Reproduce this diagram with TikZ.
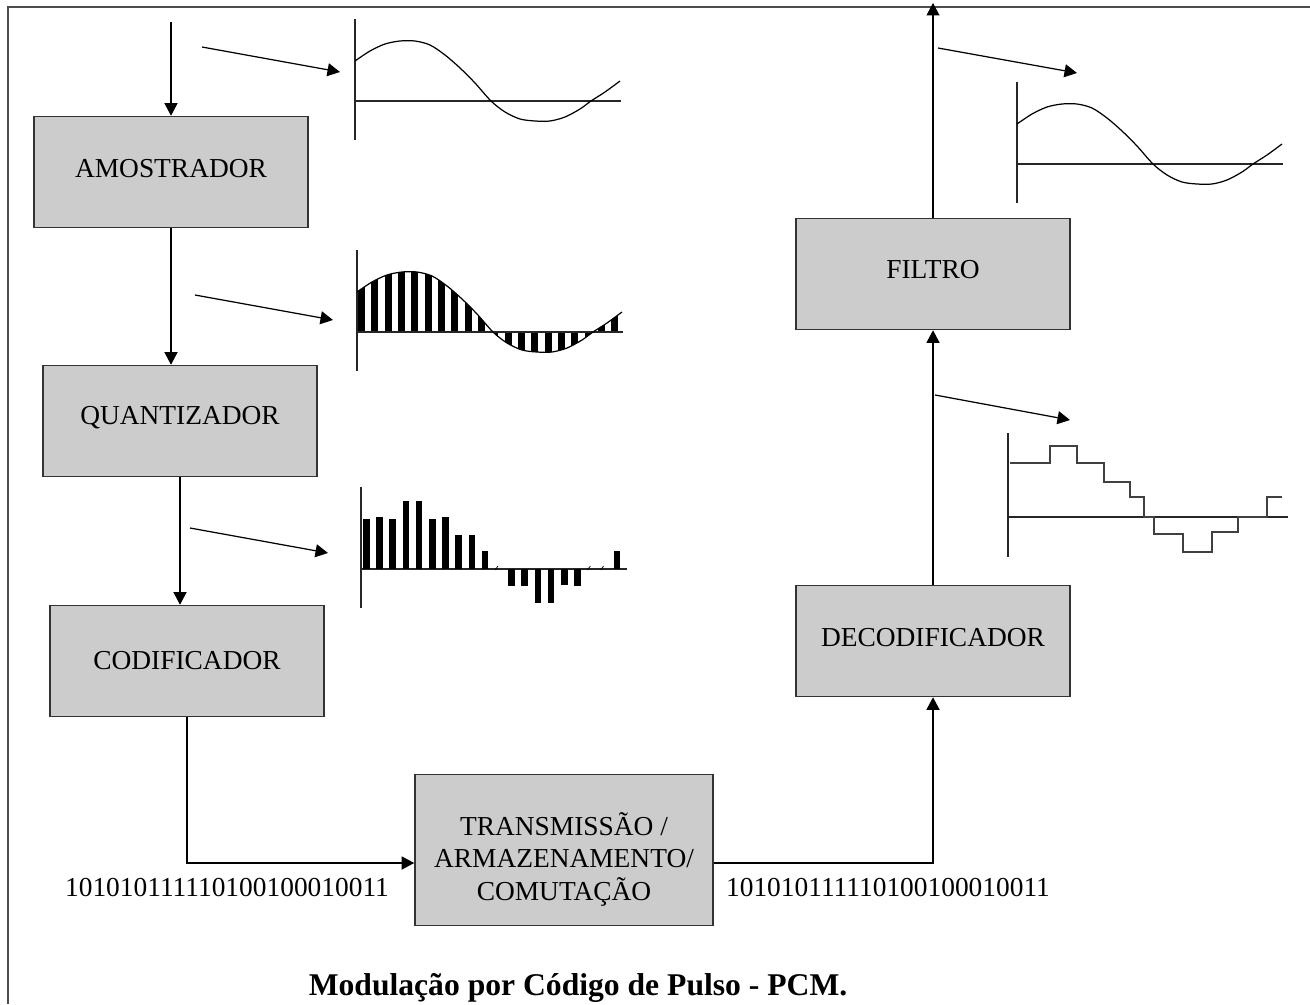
\documentclass[tikz,border=0pt]{standalone}
\usepackage{fontspec}
\setmainfont{Liberation Serif}
\usetikzlibrary{arrows.meta}

% one period of the analog signal, origin on the axes
\newcommand{\sinecurve}{plot[smooth] coordinates {(0,-40) (15,-50) (30,-57) (45,-60) (60,-60) (75,-56) (90,-46) (105,-33) (120,-18) (136,0) (150,11) (165,18) (180,20) (195,20) (210,16) (225,8) (236,0) (250,-9) (265,-20)}}
\newcommand{\waveaxes}{\draw[axis] (0,-82) -- (0,39); \draw[axis] (0,0) -- (266,0);}
\newcommand{\lift}[2]{\raisebox{#1}[\height][\depth]{#2}}

\begin{document}
\begin{tikzpicture}[x=0.02cm, y=-0.02cm,
  box/.style={draw=black!80, fill=black!20, line width=0.9pt,
    minimum width=5.48cm, minimum height=2.22cm, align=center,
    font=\fontsize{15.6}{18.5}\selectfont},
  flow/.style={draw, line width=0.7pt, -{Triangle[length=0.25cm,width=0.26cm]}},
  axis/.style={line width=0.7pt, black!85},
  wave/.style={line width=0.7pt}]
  \useasboundingbox (0,0) rectangle (1310,1004);
  \draw[line width=0.9pt, black!70] (1310,7) -- (8,7) -- (8,1004);

  % blocks
  \node[box] (amos) at (171,172) {\lift{0.06cm}{AMOSTRADOR}};
  \node[box] (quant) at (180,421) {\lift{0.06cm}{QUANTIZADOR}};
  \node[box] (cod) at (187,661) {CODIFICADOR};
  \node[box, minimum width=5.96cm, minimum height=3.02cm] (trans) at (564,850)
    {\lift{-0.22cm}{\begin{tabular}{@{}c@{}}TRANSMISSÃO /\\ARMAZENAMENTO/\\COMUTAÇÃO\end{tabular}}};
  \node[box] (decod) at (933,641) {\lift{0.06cm}{DECODIFICADOR}};
  \node[box] (filt) at (933,274) {\lift{0.08cm}{FILTRO}};

  \node[font=\fontsize{15.6}{18.5}\selectfont] (bitsa) at (227,888) {101010111110100100010011};
  \node[font=\fontsize{15.6}{18.5}\selectfont] (bitsb) at (888,888) {101010111110100100010011};
  \node[font=\fontsize{18}{22}\selectfont\bfseries] (title) at (578,988) {Modulação por Código de Pulso - PCM.};

  % signal path
  \coordinate (in) at (171,22);
  \coordinate (out) at (933,3);
  \draw[flow] (in) -- (amos);
  \draw[flow] (amos.south) -- (amos.south |- quant.north);
  \draw[flow] (quant.south) -- (quant.south |- cod.north);
  \draw[flow] (cod.south) |- ([yshift=-0.26cm]trans.west);
  \draw[flow] ([yshift=-0.26cm]trans.east) -| (decod.south);
  \draw[flow] (decod) -- (filt);
  \draw[flow] (filt) -- (out);

  % pointers to the waveforms
  \draw[flow] (202,47) coordinate (pa) -- (340,72) coordinate (qa);
  \draw[flow] (195,295) coordinate (pb) -- (333,320) coordinate (qb);
  \draw[flow] (190,528) coordinate (pc) -- (328,553) coordinate (qc);
  \draw[flow] (938,48) coordinate (pd) -- (1077,73) coordinate (qd);
  \draw[flow] (935,395) coordinate (pe) -- (1070,420) coordinate (qe);

  % analog input
  \begin{scope}[shift={(355,101)}]
    \waveaxes
    \draw[wave] \sinecurve;
  \end{scope}

  % samples
  \begin{scope}[shift={(357,332)}]
    \begin{scope}
      \clip \sinecurve -- (266,0) -- (0,0) -- cycle;
      \foreach \i in {0,...,19}
        \fill (1+13.33*\i,-70) rectangle ++(7,100);
    \end{scope}
    \waveaxes
    \draw[wave] \sinecurve;
  \end{scope}

  % quantized samples
  \begin{scope}[shift={(361,569)}]
    \waveaxes
    \foreach \h [count=\i from 0] in {-50,-52,-50,-68,-68,-50,-52,-34,-34,-18,0,17,17,34,34,16,17,0,0,-18}
      \fill (2+13.2*\i,0) rectangle ++(6.5,\h);
    \foreach \i in {10,17,18}
      \draw[line width=0.4pt] (2+13.2*\i,1) -- ++(3,-4);
  \end{scope}

  % decoded staircase
  \begin{scope}[shift={(1008,517)}]
    \draw[axis] (0,-84) -- (0,40);
    \draw[axis] (0,0) -- (280,0);
    \draw[wave, black!75] (2,-54) -| (42,-71) -| (69,-54) -| (96,-35) -| (122,-20)
      -| (136,0) -| (146,17) -| (175,35) -| (204,15) -| (230,0) -| (259,-20) -- (274,-20);
  \end{scope}

  % filtered output
  \begin{scope}[shift={(1017,164)}]
    \waveaxes
    \draw[wave] \sinecurve;
  \end{scope}
\end{tikzpicture}
\end{document}
